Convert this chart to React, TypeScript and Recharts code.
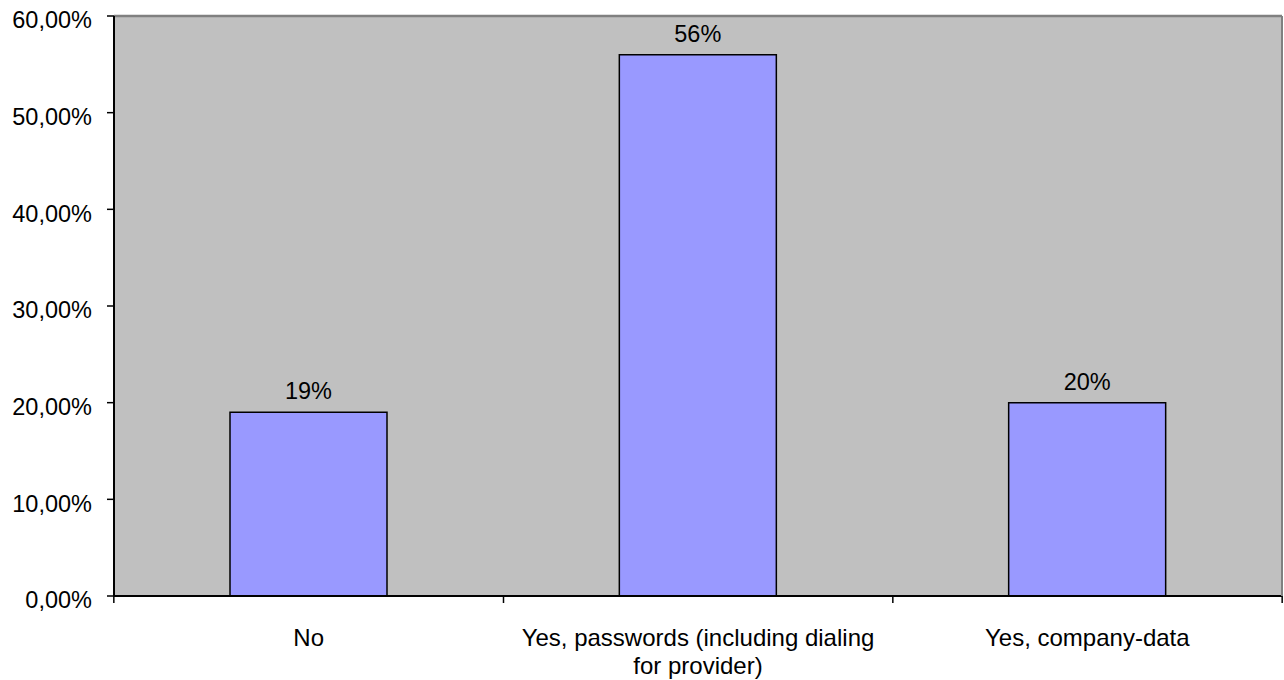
import React from "react";
import { BarChart, Bar, XAxis, YAxis, CartesianGrid, LabelList, ReferenceLine } from "recharts";

const categories = ["No", "Yes, passwords (including dialing for provider)", "Yes, company-data"];
const categoryLines = [["No"], ["Yes, passwords (including dialing", "for provider)"], ["Yes, company-data"]];
const shares = [19, 56, 20];
const yTicks = [0, 10, 20, 30, 40, 50, 60];

const data = categories.map((name, i) => ({ name, value: shares[i] }));

const W = 1284;
const H = 680;
const LEFT = 114;
const RIGHT = 1;
const TOP = 16;
const BOTTOM = 84;
const band = (W - LEFT - RIGHT) / categories.length;
const FONT = "'Liberation Sans', Arial, sans-serif";

function CategoryTick(props: any) {
  const { x, y, index } = props;
  const lines = categoryLines[index] ?? [];
  return (
    <g>
      {index === 0 && <line x1={x - band / 2} x2={x - band / 2} y1={y} y2={y + 7} stroke="#000" strokeWidth={1.5} />}
      <line x1={x + band / 2} x2={x + band / 2} y1={y} y2={y + 7} stroke="#000" strokeWidth={1.5} />
      {lines.map((t: string, i: number) => (
        <text key={i} x={x} y={y + 50 + i * 28} textAnchor="middle" fontSize={24} fontFamily={FONT} fill="#000">
          {t}
        </text>
      ))}
    </g>
  );
}

function PercentTick(props: any) {
  const { y, payload } = props;
  const label = Number(payload.value).toFixed(2).replace(".", ",") + "%";
  return (
    <g>
      <line x1={LEFT - 7} x2={LEFT} y1={y} y2={y} stroke="#000" strokeWidth={1.5} />
      <text x={92} y={y + 12.3} textAnchor="end" fontSize={23.5} fontFamily={FONT} fill="#000">
        {label}
      </text>
    </g>
  );
}

function ValueLabel(props: any) {
  const { x, y, width, value } = props;
  return (
    <text x={x + width / 2} y={y - 13} textAnchor="middle" fontSize={23.5} fontFamily={FONT} fill="#000">
      {`${value}%`}
    </text>
  );
}

export default function App() {
  return (
    <div style={{ position: "absolute", left: 0, top: 0, background: "#fff" }}>
      <BarChart
        width={W}
        height={H}
        data={data}
        margin={{ top: TOP, right: RIGHT, left: 0, bottom: 0 }}
        barSize={157}
      >
        <CartesianGrid vertical={false} stroke="#000" strokeWidth={1.2} fill="#C0C0C0" fillOpacity={1} />
        <XAxis
          dataKey="name"
          interval={0}
          height={BOTTOM}
          tickSize={0}
          tickMargin={0}
          tickLine={false}
          axisLine={{ stroke: "#000", strokeWidth: 2 }}
          tick={<CategoryTick />}
        />
        <YAxis
          yAxisId="left"
          width={LEFT}
          domain={[0, 60]}
          ticks={yTicks}
          tickSize={0}
          tickMargin={0}
          tickLine={false}
          axisLine={{ stroke: "#000", strokeWidth: 2 }}
          tick={<PercentTick />}
        />
        <YAxis
          yAxisId="right"
          orientation="right"
          width={RIGHT}
          domain={[0, 60]}
          tick={false}
          tickLine={false}
          axisLine={{ stroke: "#808080", strokeWidth: 2 }}
        />
        <ReferenceLine yAxisId="left" y={60} stroke="#808080" strokeWidth={2.5} />
        <Bar yAxisId="left" dataKey="value" fill="#9999FF" stroke="#000" strokeWidth={1.5} isAnimationActive={false}>
          <LabelList dataKey="value" content={<ValueLabel />} />
        </Bar>
      </BarChart>
    </div>
  );
}
